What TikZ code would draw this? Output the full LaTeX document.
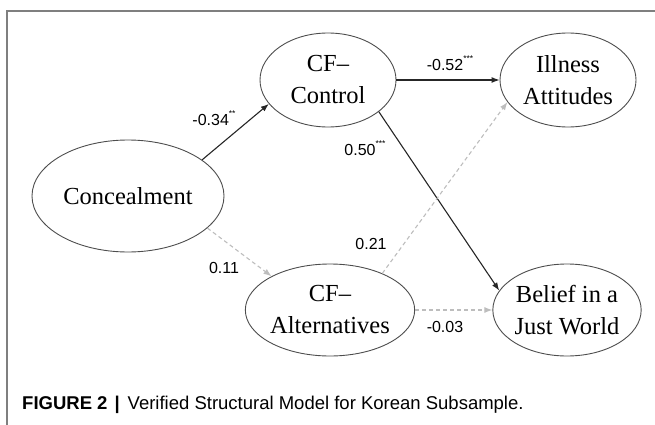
\documentclass[tikz,border=0pt]{standalone}
\usepackage{fontspec}
\setmainfont{Liberation Serif}
\newfontfamily\lblfont{Liberation Sans}
\usetikzlibrary{shapes.geometric,arrows.meta}
\definecolor{edgedark}{HTML}{262626}
\definecolor{edgelight}{HTML}{BDBDBD}
\definecolor{framecol}{HTML}{7F7F7F}
\definecolor{ellcol}{HTML}{4D4D4D}
\begin{document}
\begin{tikzpicture}[x=1pt,y=-1pt,
  latent/.style={ellipse, draw=ellcol, line width=0.9pt, inner sep=0pt, align=center,
    font=\fontsize{24.5}{32}\selectfont},
  solidpath/.style={draw=edgedark, line width=1.1pt, -{Latex[length=8pt,width=6pt]}},
  dashpath/.style={draw=edgelight, line width=1.1pt, dash pattern=on 4pt off 3pt,
    -{Latex[length=8pt,width=6pt]}},
  coef/.style={font=\lblfont\fontsize{16}{18}\selectfont, inner sep=0pt}]
\useasboundingbox (0,0) rectangle (655,425);
\draw[framecol, line width=1.2pt] (655,11) -- (7,11) -- (7,425);

\node[latent, minimum width=192pt, minimum height=112pt] (conc) at (128,196) {Concealment};
\node[latent, minimum width=136pt, minimum height=94pt] (ctrl) at (328,80) {CF--\\Control};
\node[latent, minimum width=136pt, minimum height=92pt] (alt) at (330,310) {CF--\\Alternatives};
\node[latent, minimum width=136pt, minimum height=94pt] (ill) at (568,80) {Illness\\Attitudes};
\node[latent, minimum width=138pt, minimum height=92pt] (bel) at (567,310) {Belief in a\\Just World};

\draw[solidpath] (conc.26) -- (ctrl.202);
\draw[solidpath] (ctrl.east) -- (ill.west);
\draw[solidpath] (ctrl.-32.6) -- (bel.164.5);
\draw[dashpath] (conc.-22) -- (alt.150.5);
\draw[dashpath] (alt.35) -- (ill.200);
\draw[dashpath] (alt.east) -- (bel.west);

\newcommand{\sigstars}[1]{\raisebox{0.55em}{\fontsize{8.5}{8.5}\selectfont #1}}
\node[coef] (l1) at (214,118) {-0.34\sigstars{**}};
\node[coef] (l2) at (450,63) {-0.52\sigstars{***}};
\node[coef] (l3) at (365,148) {0.50\sigstars{***}};
\node[coef] (l4) at (371,244) {0.21};
\node[coef] (l5) at (224,268) {0.11};
\node[coef] (l6) at (445,327) {-0.03};

\node[anchor=base west, inner sep=0pt, font=\lblfont\fontsize{18.5}{20}\selectfont] (cap) at (22,409)
  {\textbf{FIGURE 2}\hspace{7pt}\textbf{|}\hspace{8pt}Verified Structural Model for Korean Subsample.};
\end{tikzpicture}
\end{document}
